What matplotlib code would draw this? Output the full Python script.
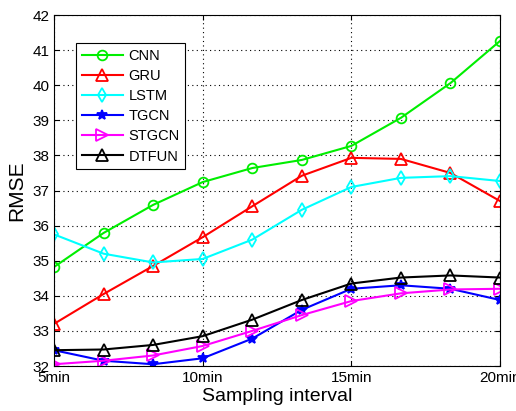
import matplotlib
matplotlib.use('Agg')
import matplotlib.pyplot as plt

plt.rcParams['font.family'] = ['Liberation Sans', 'DejaVu Sans']

# sampling interval positions (minutes)
x = [5, 5 + 5/3, 5 + 10/3, 10, 10 + 5/3, 10 + 10/3, 15, 15 + 5/3, 15 + 10/3, 20]
xticks = [5, 10, 15, 20]
xtick_labels = ['5min', '10min', '15min', '20min']

cnn = [34.82, 35.79, 36.59, 37.24, 37.64, 37.87, 38.27, 39.07, 40.06, 41.26]
gru = [33.2, 34.05, 34.85, 35.67, 36.55, 37.42, 37.93, 37.9, 37.5, 36.7]
lstm = [35.75, 35.2, 34.95, 35.05, 35.6, 36.45, 37.1, 37.36, 37.41, 37.27]
tgcn = [32.45, 32.15, 32.05, 32.22, 32.78, 33.6, 34.2, 34.3, 34.2, 33.88]
stgcn = [32.05, 32.15, 32.3, 32.57, 33.0, 33.45, 33.85, 34.07, 34.18, 34.2]
dtfun = [32.45, 32.47, 32.6, 32.85, 33.32, 33.88, 34.35, 34.52, 34.58, 34.52]

fig = plt.figure(figsize=(5.16, 4.11), dpi=100)
ax = fig.add_axes([54/516, 45/411, 446/516, 351/411])

kw = dict(lw=1.5, mew=1.3)
ax.plot(x, cnn, color='#00ee00', marker='o', mfc='none', ms=7, label='CNN', **kw)
ax.plot(x, gru, color='red', marker='^', mfc='none', ms=8, label='GRU', **kw)
ax.plot(x, lstm, color='cyan', marker='d', mfc='none', ms=7, label='LSTM', **kw)
ax.plot(x, tgcn, color='blue', marker='*', ms=7, label='TGCN', **kw)
ax.plot(x, stgcn, color='magenta', marker='>', mfc='none', ms=8, label='STGCN', **kw)
ax.plot(x, dtfun, color='black', marker='^', mfc='none', ms=8, label='DTFUN', **kw)

ax.set_xlim(5, 20)
ax.set_ylim(32, 42)
ax.set_xticks(xticks)
ax.set_xticklabels(xtick_labels)
ax.set_yticks(range(32, 43))
ax.tick_params(direction='in', top=True, right=True, labelsize=11)
ax.grid(True, color='black', linestyle=(0, (1, 3)), linewidth=0.8)
ax.set_xlabel('Sampling interval', fontsize=14, labelpad=2)
ax.set_ylabel('RMSE', fontsize=15, labelpad=4)

leg = ax.legend(loc='upper left', bbox_to_anchor=(0.049, 0.92), borderaxespad=0,
                fontsize=10.5, fancybox=False, framealpha=1, edgecolor='black',
                handlelength=2.8, handletextpad=0.4, labelspacing=0.42, borderpad=0.4)
leg.get_frame().set_linewidth(0.8)

fig.savefig('out.png', dpi=100)
